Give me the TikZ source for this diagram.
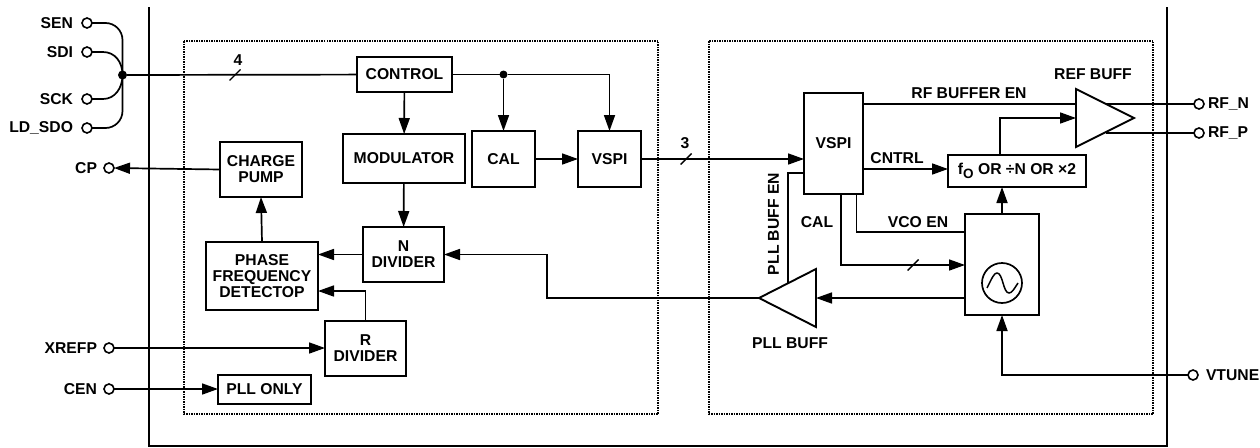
\documentclass[tikz,border=0pt]{standalone}
\usepackage{fontspec}
\setmainfont{Liberation Sans}
\usetikzlibrary{arrows.meta,calc}
\tikzset{
  wire/.style={line width=1.7pt,line join=miter},
  arr/.style={wire,-{Triangle[length=16pt,width=11pt]}},
  box/.style={draw,line width=1.9pt,align=center,inner sep=0pt,outer sep=0pt,font=\fontsize{15.7}{16}\selectfont\bfseries},
  lab/.style={inner sep=0pt,outer sep=0pt,align=center,font=\fontsize{15.7}{16}\selectfont\bfseries},
  pin/.style={circle,draw,line width=1.6pt,fill=white,minimum size=10pt,inner sep=0pt,outer sep=0pt},
  dot/.style={circle,fill=black,minimum size=9pt,inner sep=0pt,outer sep=0pt},
  region/.style={line width=1.7pt,dash pattern=on 1.5pt off 1pt},
  tri/.style={line width=1.9pt,line join=miter},
  slash/.style={line width=1.4pt}
}
\begin{document}
\begin{tikzpicture}[x=1pt,y=-1pt]
\useasboundingbox (0,0) rectangle (1260,447);
% regions
\draw[region] (184,41) rectangle (658,414);
\draw[region] (709,41) rectangle (1153,414);
\draw[line width=1.9pt] (149,7) -- (149,446) -- (1167,446) -- (1167,7);
% blocks
\node[box,minimum width=95pt,minimum height=35pt] (control) at (404.5,74.5) {CONTROL};
\node[box,minimum width=122pt,minimum height=49pt] (mod) at (404,158.5) {MODULATOR};
\node[box,minimum width=63pt,minimum height=56pt] (cal) at (503.5,159) {CAL};
\node[box,minimum width=63pt,minimum height=56pt] (vspiL) at (609.5,159) {VSPI};
\node[box,minimum width=81pt,minimum height=55pt] (ndiv) at (403.5,254.5) {N\\DIVIDER};
\node[box,minimum width=82pt,minimum height=55pt] (cpump) at (261,169.5) {CHARGE\\PUMP};
\node[box,minimum width=112pt,minimum height=68pt] (pfd) at (262,276) {PHASE\\FREQUENCY\\DETECTOP};
\node[box,minimum width=81pt,minimum height=55pt] (rdiv) at (365.5,348.5) {R\\DIVIDER};
\node[box,minimum width=93pt,minimum height=29pt] (pllonly) at (264.5,389.5) {PLL ONLY};
\node[box,minimum width=59pt,minimum height=101pt] (vspiR) at (833.5,143.5) {VSPI};
\node[box,minimum width=138pt,minimum height=32pt] (fo) at (1017,171) {f{\raisebox{-3.5pt}{\fontsize{13.5}{13.5}\selectfont O}} OR ÷N OR ×2};
\node[box,minimum width=74pt,minimum height=101pt] (vco) at (1002,264.5) {};
\node[circle,draw,line width=1.7pt,minimum size=40pt,inner sep=0pt,outer sep=0pt] (osc) at (1002,283) {};
\draw[line width=1.5pt] (987,288) .. controls (992,278) and (994,273) .. (997,273) .. controls (1003,273) and (1003,293) .. (1009,293) .. controls (1012,293) and (1014,289) .. (1018,283);
% buffers
\coordinate (refA) at (1076,89);
\coordinate (refB) at (1076,147);
\coordinate (refC) at (1134,118);
\coordinate (plA) at (816,269);
\coordinate (plB) at (816,327);
\coordinate (plC) at (759,298);
\draw[tri] (refA) -- (refC) -- (refB) -- cycle;
\draw[tri] (plA) -- (plC) -- (plB) -- cycle;
% pins
\node[pin] (sen) at (87,23) {};
\node[pin] (sdi) at (87,52) {};
\node[pin] (sck) at (87,99) {};
\node[pin] (ldsdo) at (87,128) {};
\node[pin] (cp) at (109,168) {};
\node[pin] (xrefp) at (109,348) {};
\node[pin] (cen) at (109,389) {};
\node[pin] (rfn) at (1199,104) {};
\node[pin] (rfp) at (1199,133) {};
\node[pin] (vtune) at (1193,375) {};
% pin labels
\node[lab,anchor=east] at (73,23) {SEN};
\node[lab,anchor=east] at (73,52) {SDI};
\node[lab,anchor=east] at (73,99) {SCK};
\node[lab,anchor=east] at (73,128) {LD\_SDO};
\node[lab,anchor=east] at (97,168) {CP};
\node[lab,anchor=east] at (97,348) {XREFP};
\node[lab,anchor=east] at (97,389) {CEN};
\node[lab,anchor=west] at (1208,104) {RF\_N};
\node[lab,anchor=west] at (1208,133) {RF\_P};
\node[lab,anchor=west] at (1206,375) {VTUNE};
% other labels
\node[lab] at (238,60) {4};
\node[lab] at (685,143) {3};
\node[lab] at (969,93) {RF BUFFER EN};
\node[lab] at (1093,74) {REF BUFF};
\node[lab] at (897,158) {CNTRL};
\node[lab] at (817,222) {CAL};
\node[lab] at (918,222) {VCO EN};
\node[lab,rotate=90] at (773.5,224) {PLL BUFF EN};
\node[lab] at (790,343) {PLL BUFF};
% serial bus
\node[dot] (busdot) at (122.5,75) {};
\draw[wire,rounded corners=17pt] (sen) -- (busdot |- sen) -- (busdot |- ldsdo) -- (ldsdo);
\draw[wire] (sdi) -- (103,52) .. controls (115,52) and (122.5,62) .. (busdot.center);
\draw[wire] (sck) -- (103,99) .. controls (115,99) and (122.5,88) .. (busdot.center);
\draw[wire] (busdot) -- (control);
\coordinate (slashA) at (235,75);
\draw[slash] ($(slashA)+(-5.5,5.5)$) -- ($(slashA)+(5.5,-5.5)$);
% digital side
\node[dot,minimum size=8pt] (caldot) at (cal.north |- control.east) {};
\draw[wire] (control) -- (caldot);
\draw[arr] (caldot) -- (cal.north);
\draw[arr] (caldot) -| (vspiL.north);
\draw[arr] (control) -- (mod);
\draw[arr] (mod) -- (ndiv);
\draw[arr] (cal) -- (vspiL);
\draw[arr] (vspiL) -- (vspiR.west |- vspiL);
\coordinate (slashB) at (686,159);
\draw[slash] ($(slashB)+(-5.5,5.5)$) -- ($(slashB)+(5.5,-5.5)$);
\draw[arr] (ndiv.west) -- (pfd.east |- ndiv.west);
\draw[arr] (rdiv.north) |- (318,291);
\draw[arr] (pfd.north) -- (cpump.south);
\draw[arr] (cpump.west) -- (cp.east);
\draw[arr] (xrefp) -- (rdiv.west |- xrefp);
\draw[arr] (cen) -- (pllonly.west |- cen);
% RF side
\coordinate (pllout) at (547,298);
\draw[arr] (plC) -- (pllout) |- (ndiv.east);
\draw[wire] (vspiR.west |- 0,173) -| (788,283);
\draw[wire] (vspiR.east |- 0,104) -- (refA |- 0,104);
\draw[arr] (vspiR.east |- fo) ++(0,-2) coordinate (cn) -- (fo.west |- cn);
\draw[arr] (1000,155) |- (refA |- refC);
\draw[arr] (vco.north) -- (vco.north |- fo.south);
\draw[wire] (856.5,194) |- (vco.west |- 0,232);
\draw[arr] (841,194) |- (vco.west |- 0,265);
\coordinate (slashC) at (913,265);
\draw[slash] ($(slashC)+(-5.5,5.5)$) -- ($(slashC)+(5.5,-5.5)$);
\draw[arr] (vco.west |- plC) -- (plA |- plC);
\draw[arr] (vtune) -| (vco.south);
\draw[wire] (1106,104) -- (rfn);
\draw[wire] (1106,133) -- (rfp);
\end{tikzpicture}
\end{document}
